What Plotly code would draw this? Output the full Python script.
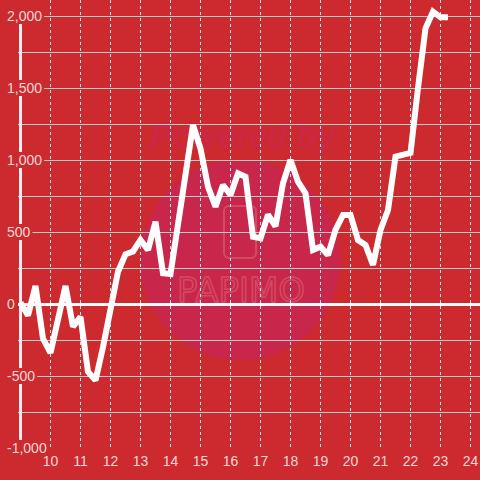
import base64
import plotly.graph_objects as go

# ---- data ----
hours = [9.0, 9.25, 9.5, 9.75, 10.0, 10.25, 10.5, 10.75, 11.0, 11.25, 11.5, 11.75,
         12.0, 12.25, 12.5, 12.75, 13.0, 13.25, 13.5, 13.75, 14.0, 14.25, 14.5, 14.75,
         15.0, 15.25, 15.5, 15.75, 16.0, 16.25, 16.5, 16.75, 17.0, 17.25, 17.5, 17.75,
         18.0, 18.25, 18.5, 18.75, 19.0, 19.25, 19.5, 19.75, 20.0, 20.25, 20.5, 20.75,
         21.0, 21.25, 21.5, 21.75, 22.0, 22.25, 22.5, 22.75, 23.0, 23.25]
values = [10, -80, 125, -240, -340, -100, 125, -157, -90, -470,
          -530, -300, -40, 224, 345, 365, 445, 375, 571, 213,
          208, 560, 920, 1243, 1080, 815, 676, 826, 757, 907,
          884, 467, 456, 620, 540, 838, 1000, 849, 769, 375,
          398, 340, 514, 618, 618, 444, 410, 271, 514, 653,
          1023, 1035, 1050, 1500, 1914, 2030, 1991, 1991]
x_tick_vals = [10, 11, 12, 13, 14, 15, 16, 17, 18, 19, 20, 21, 22, 23, 24]
y_tick_vals = [-1000, -500, 0, 500, 1000, 1500, 2000]
y_tick_text = ["-1,000", "-500", "0", "500", "1,000", "1,500", "2,000"]

# ---- style ----
BG = "#cc2a2f"
GRID = "#c9c9c9"
TXT = "#f5d6d6"
FONT = "Liberation Sans, Arial, sans-serif"
W, H = 480, 480
ML, MB = 18, 32
X0 = 9 - 2.5 / 30
X1 = X0 + (W - ML) / 30
YMIN = -1000
YMAX = YMIN + (H - MB) / 0.144

fig = go.Figure()
fig.add_trace(go.Scatter(x=hours, y=values, mode="lines",
                         line=dict(color="white", width=6),
                         hoverinfo="skip", showlegend=False))

# watermark (decorative)
svg = '''<svg xmlns="http://www.w3.org/2000/svg" width="480" height="480" viewBox="0 0 480 480">
<circle cx="240" cy="260" r="100" fill="#c8264a"/>
<text x="243" y="147" text-anchor="middle" font-family="Liberation Sans, Arial" font-style="italic" font-weight="bold" font-size="33" fill="#cc2745">Powered by</text>
<rect x="224" y="206" width="32" height="52" rx="5" fill="none" stroke="#d44a62" stroke-width="2"/>
<text x="241" y="302" text-anchor="middle" font-family="DejaVu Sans" font-size="34" fill="none" stroke="#d44a62" stroke-width="1.5">PAPIMO</text>
</svg>'''
src = "data:image/svg+xml;base64," + base64.b64encode(svg.encode()).decode()
plot_w, plot_h = W - ML, H - MB

def text_w(s):
    return sum(3.9 if c == "," else 4.7 if c == "-" else 7.8 for c in s)

shapes = []
# y axis line
shapes.append(dict(type="line", layer="between", xref="x", yref="y",
                   x0=9, x1=9, y0=YMIN, y1=2000,
                   line=dict(color="#f4eeee", width=3)))
# cover above 2000 (grid region ends at 2000)
shapes.append(dict(type="rect", layer="between", xref="paper", yref="y",
                   x0=0, x1=1, y0=2012, y1=YMAX, fillcolor=BG, line=dict(width=0)))
# label backgrounds
for v, t in zip(y_tick_vals, y_tick_text):
    shapes.append(dict(type="rect", layer="between", xref="x", yref="y",
                       xsizemode="pixel", xanchor=9, x0=-16, x1=-13.5 + text_w(t) + 2,
                       ysizemode="pixel", yanchor=v, y0=-8, y1=8,
                       fillcolor=BG, line=dict(width=0)))

fig.update_layout(
    width=W, height=H,
    margin=dict(l=ML, r=0, t=0, b=MB, pad=0),
    paper_bgcolor=BG, plot_bgcolor=BG,
    showlegend=False, hovermode=False,
    font=dict(family=FONT, size=14, color=TXT),
    shapes=shapes,
    images=[dict(source=src, xref="paper", yref="paper",
                 x=-ML / plot_w, y=1, sizex=W / plot_w, sizey=H / plot_h,
                 xanchor="left", yanchor="top", sizing="stretch", layer="below")],
    xaxis=dict(range=[X0, X1], tickvals=x_tick_vals, showgrid=True,
               gridcolor="rgba(255,255,255,0.85)", gridwidth=1, griddash="dot",
               zeroline=False, showline=False, ticks="", ticklabelstandoff=3,
               tickfont=dict(family=FONT, size=14, color=TXT), fixedrange=True),
    yaxis=dict(range=[YMIN, YMAX], tickvals=y_tick_vals, ticktext=y_tick_text,
               showgrid=True, gridcolor=GRID, gridwidth=1,
               minor=dict(dtick=250, tick0=0, showgrid=True, gridcolor=GRID, gridwidth=1),
               zeroline=True, zerolinecolor="white", zerolinewidth=3,
               showline=False, ticks="", ticklabelposition="inside",
               ticklabelstandoff=-14, ticklabeloverflow="allow",
               tickfont=dict(family=FONT, size=14, color=TXT), fixedrange=True),
)

fig.write_html(
    "out.html",
    config={"displayModeBar": False, "staticPlot": True},
    post_script="document.body.style.margin='0';document.body.style.backgroundColor='%s';" % BG,
)
